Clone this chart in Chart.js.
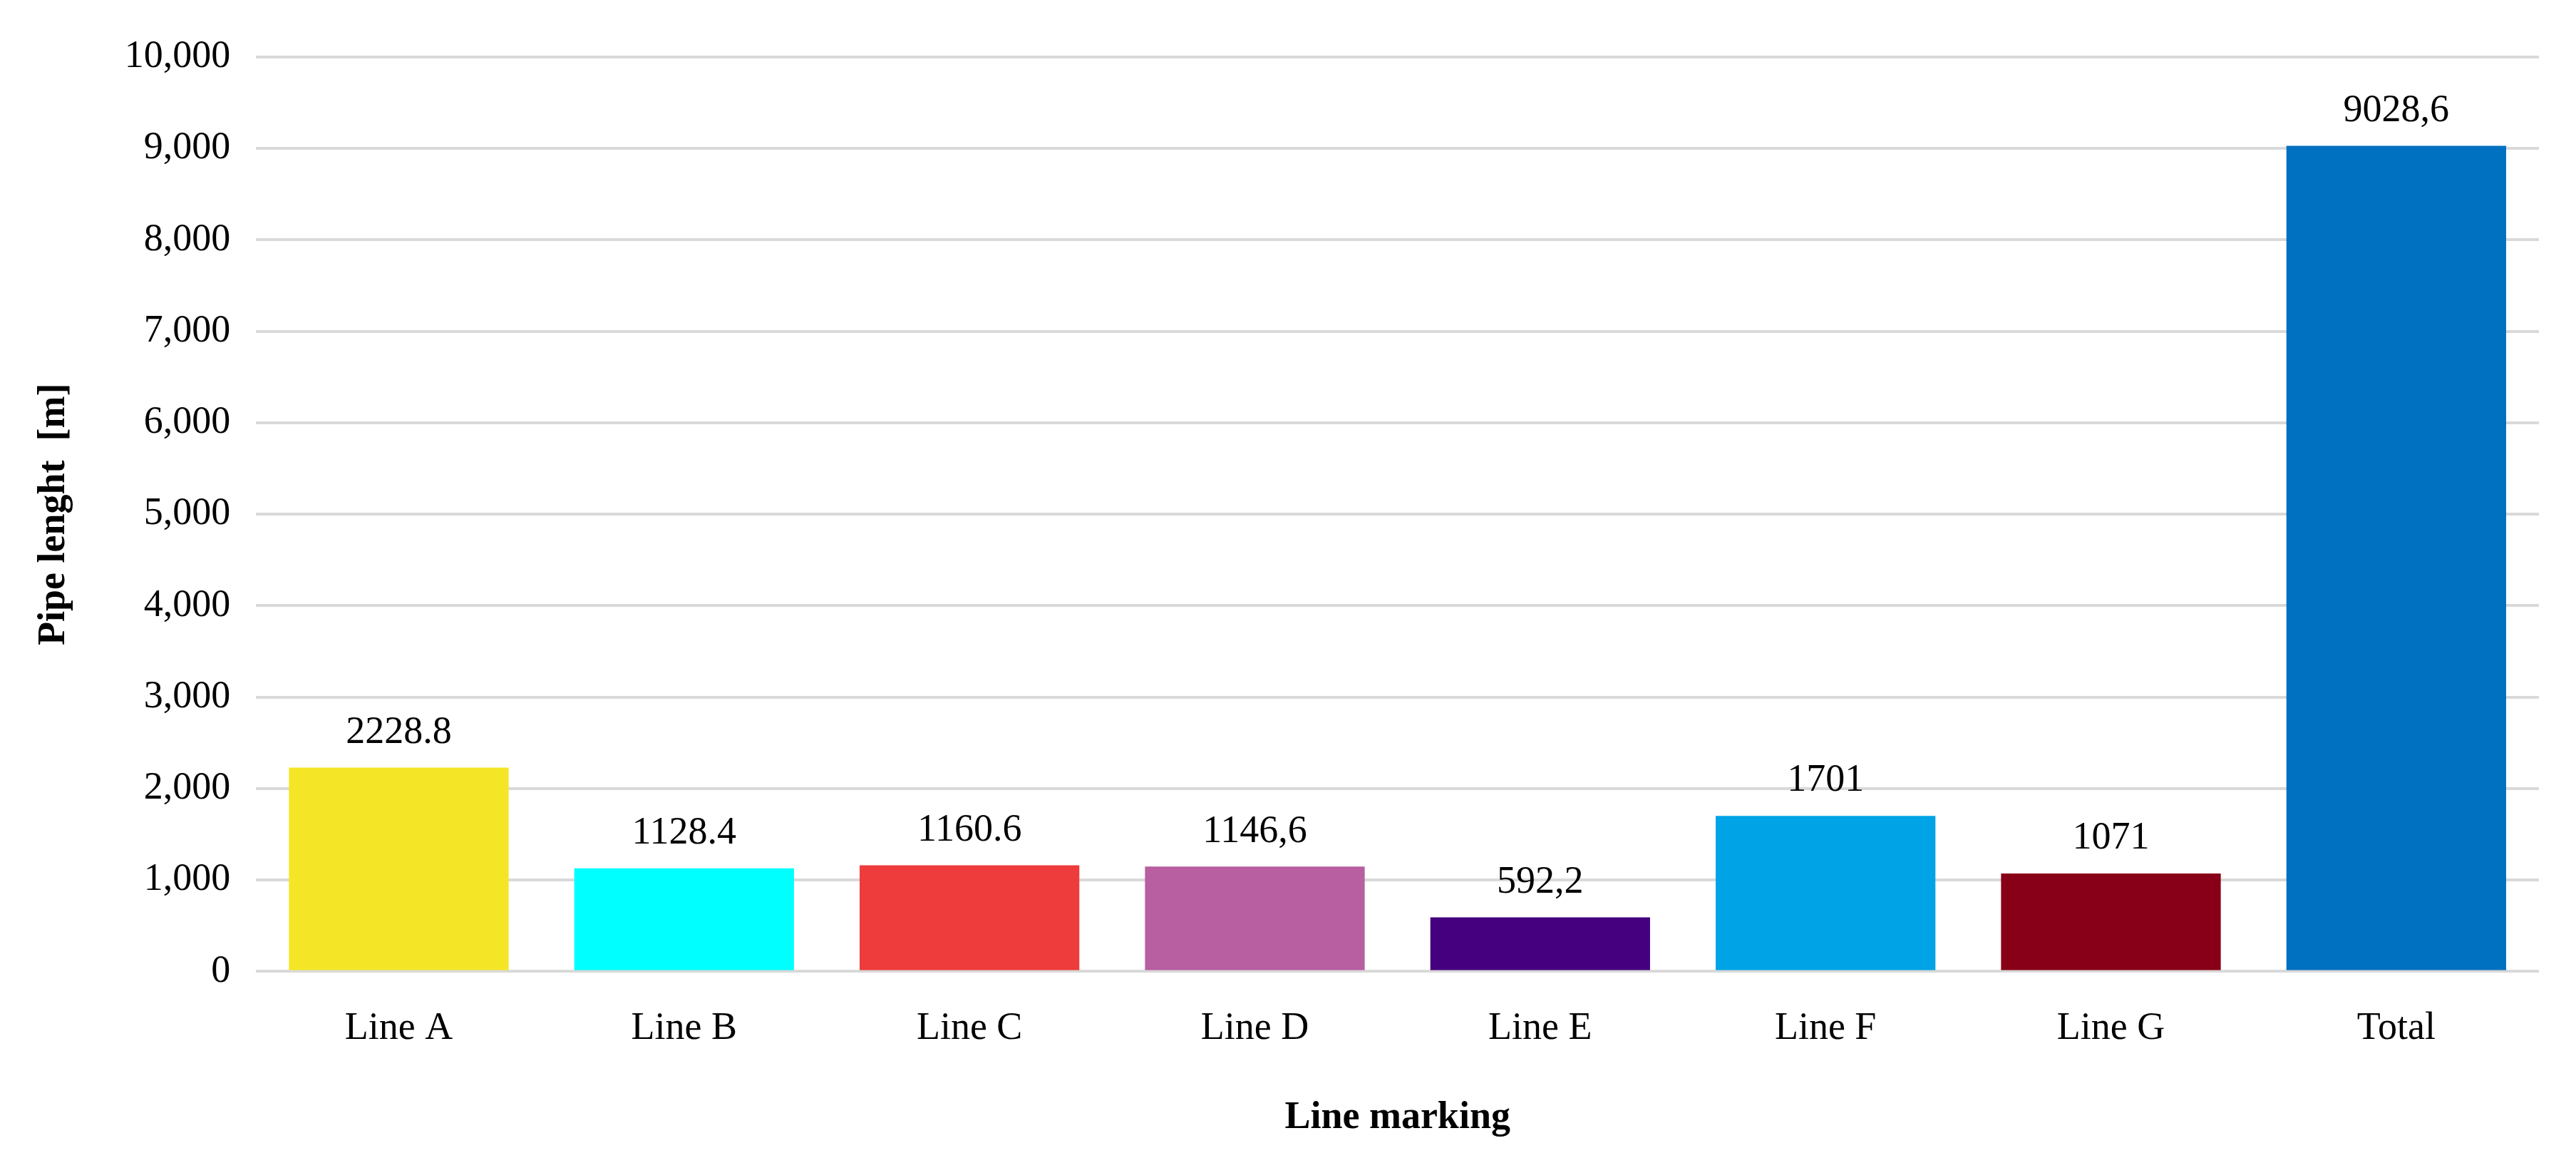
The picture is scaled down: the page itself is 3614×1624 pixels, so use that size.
<!DOCTYPE html>
<html>
<head>
<meta charset="utf-8">
<script src="https://cdn.jsdelivr.net/npm/chart.js@4/dist/chart.umd.min.js"></script>
<style>
  html, body { margin: 0; padding: 0; background: #fff; }
  #wrap { width: 3614px; height: 1624px; }
</style>
</head>
<body>
<div id="wrap"><canvas id="graphCanvas"></canvas></div>
<script>
var categories = ['Line A', 'Line B', 'Line C', 'Line D', 'Line E', 'Line F', 'Line G', 'Total'];
var pipeLength = [2228.8, 1128.4, 1160.6, 1146.6, 592.2, 1701, 1071, 9028.6];
var valueLabels = ['2228.8', '1128.4', '1160.6', '1146,6', '592,2', '1701', '1071', '9028,6'];
var barColors = ['#F4E626', '#00FFFF', '#EE3B3B', '#B75FA0', '#45007F', '#00A3E6', '#870017', '#0070C0'];

var fontFam = '"Liberation Serif", "Times New Roman", serif';

// values above bars
var valuePlugin = {
  id: 'valuePlugin',
  afterDatasetsDraw: function (chart) {
    var ctx = chart.ctx;
    var meta = chart.getDatasetMeta(0);
    ctx.save();
    ctx.fillStyle = '#000';
    ctx.font = '54px ' + fontFam;
    ctx.textAlign = 'center';
    ctx.textBaseline = 'bottom';
    meta.data.forEach(function (bar, i) {
      ctx.fillText(valueLabels[i], bar.x, bar.y - 22);
    });
    ctx.restore();
  }
};

var chartdata = {
  labels: categories,
  datasets: [{
    data: pipeLength,
    backgroundColor: barColors,
    borderWidth: 0,
    categoryPercentage: 0.77,
    barPercentage: 1.0
  }]
};

new Chart(document.getElementById('graphCanvas'), {
  type: 'bar',
  data: chartdata,
  plugins: [valuePlugin],
  options: {
    responsive: true,
    maintainAspectRatio: false,
    animation: false,
    layout: { padding: { left: 40, right: 52, top: 80, bottom: 20 } },
    plugins: { legend: { display: false }, tooltip: { enabled: false } },
    scales: {
      x: {
        grid: { display: false },
        border: { display: false },
        ticks: { color: '#000', font: { family: fontFam, size: 54 }, padding: 40 },
        title: {
          display: true, text: 'Line marking', color: '#000',
          font: { family: fontFam, size: 54, weight: 'bold' }, padding: { top: 20 }
        }
      },
      y: {
        min: 0, max: 10000,
        ticks: { stepSize: 1000, color: '#000', font: { family: fontFam, size: 54 }, padding: 36 },
        grid: { color: '#d9d9d9', lineWidth: 4, drawTicks: false },
        border: { display: false },
        title: {
          display: true, text: 'Pipe lenght  [m]', color: '#000',
          font: { family: fontFam, size: 54, weight: 'bold' }, padding: { bottom: 30 }
        }
      }
    }
  }
});
</script>
</body>
</html>
